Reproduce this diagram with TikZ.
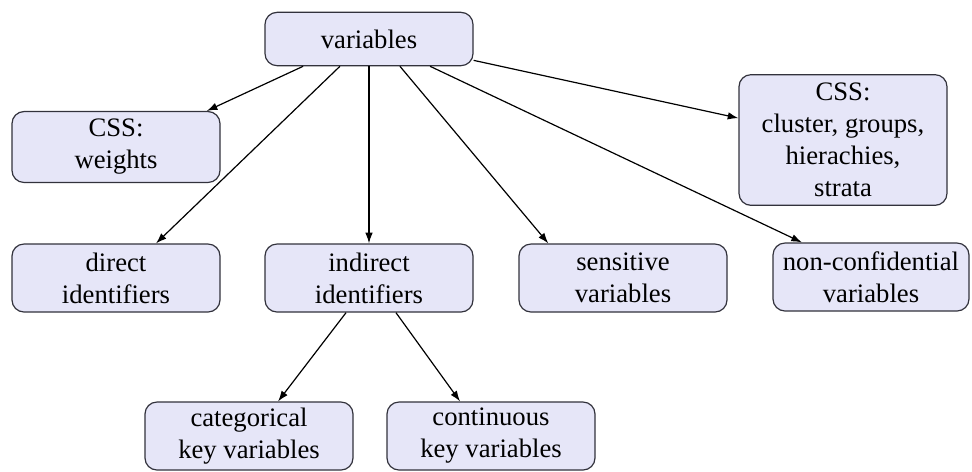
\documentclass[tikz,border=0pt]{standalone}
\usepackage{fontspec}
\setmainfont{Liberation Serif}
\usetikzlibrary{arrows.meta}
\definecolor{boxfill}{RGB}{230,230,248}
\definecolor{boxline}{RGB}{50,50,60}
\begin{document}
\begin{tikzpicture}
		[x=0.375pt, y=-0.375pt,
		box/.style={draw=boxline, fill=boxfill, rounded corners=4.5pt,
			align=center, inner sep=2pt, line width=0.45pt,
			minimum width=78pt, minimum height=25.5pt},
		every path/.style={line width=0.45pt},
		>={Latex[length=4pt,width=2.8pt]}]
		\useasboundingbox (0,0) rectangle (972,471);
		\node[box, minimum height=20pt] (var) at (369,39) {variables};
		\node[box, minimum height=26.6pt] (wgt) at (116,147) {CSS:\\weights};
		\node[box, minimum height=49pt] (clu) at (843,140) {CSS:\\cluster, groups,\\hierachies,\\strata};
		\node[box] (dir) at (116,278) {direct\\identifiers};
		\node[box] (ind) at (369,278) {indirect\\identifiers};
		\node[box] (sen) at (623,278) {sensitive\\variables};
		\node[box, minimum width=73.5pt] (non) at (871,277) {non-confidential\\variables};
		\node[box] (cat) at (249,436) {categorical\\key variables};
		\node[box] (con) at (491,436) {continuous\\key variables};
		\draw[->] ([xshift=-24.7pt]var.south) -- ([xshift=-5.2pt]wgt.north east);
		\draw[->] ([xshift=-10.9pt]var.south) -- ([xshift=15pt]dir.north);
		\draw[->] (var.south) -- (ind.north);
		\draw[->] ([xshift=11.6pt]var.south) -- ([xshift=-28pt]sen.north);
		\draw[->] ([xshift=22.9pt]var.south) -- ([xshift=-25.9pt]non.north);
		\draw[->] ([yshift=-8pt]var.east) -- ([yshift=8.2pt]clu.west);
		\draw[->] ([xshift=-8.6pt]ind.south) -- ([xshift=10.9pt]cat.north);
		\draw[->] ([xshift=10.1pt]ind.south) -- ([xshift=-11.6pt]con.north);
	\end{tikzpicture}
\end{document}
